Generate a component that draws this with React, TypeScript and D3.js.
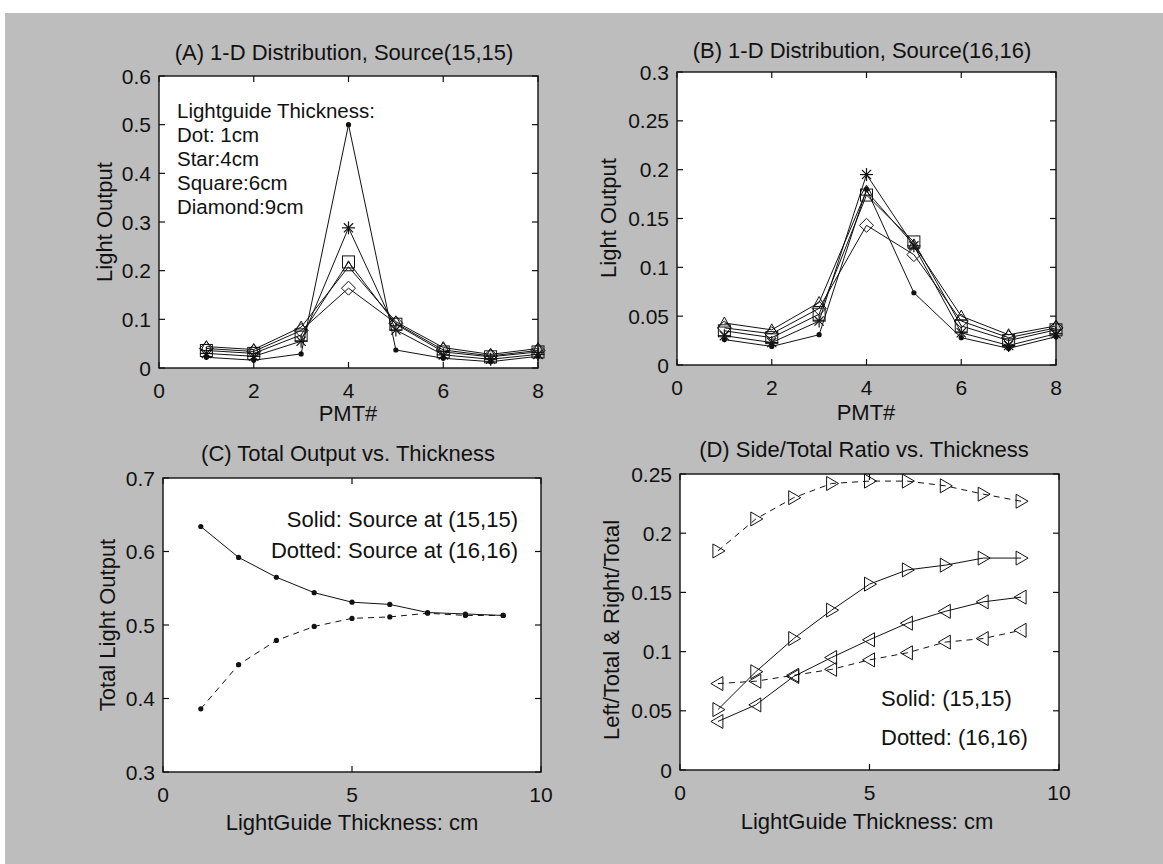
import React from 'react';
import * as d3 from 'd3';

// ---------- data ----------
const pmt = [1, 2, 3, 4, 5, 6, 7, 8];
const aDot = [0.022, 0.016, 0.029, 0.5, 0.037, 0.02, 0.013, 0.024];
const aStar = [0.03, 0.024, 0.055, 0.288, 0.078, 0.027, 0.018, 0.028];
const aSquare = [0.036, 0.03, 0.068, 0.218, 0.09, 0.033, 0.023, 0.033];
const aTriangle = [0.044, 0.038, 0.084, 0.208, 0.095, 0.042, 0.028, 0.04];
const aDiamond = [0.04, 0.034, 0.077, 0.164, 0.092, 0.037, 0.025, 0.036];

const bDot = [0.026, 0.019, 0.031, 0.18, 0.074, 0.028, 0.017, 0.029];
const bStar = [0.03, 0.023, 0.045, 0.195, 0.122, 0.033, 0.02, 0.032];
const bSquare = [0.035, 0.028, 0.052, 0.174, 0.126, 0.04, 0.025, 0.036];
const bTriangle = [0.043, 0.036, 0.064, 0.178, 0.123, 0.05, 0.031, 0.04];
const bDiamond = [0.038, 0.032, 0.058, 0.143, 0.113, 0.045, 0.028, 0.038];

const thickness = [1, 2, 3, 4, 5, 6, 7, 8, 9];
const cSolid = [0.634, 0.592, 0.565, 0.544, 0.531, 0.528, 0.517, 0.515, 0.513];
const cDotted = [0.386, 0.446, 0.479, 0.498, 0.509, 0.511, 0.516, 0.513, 0.513];

const dSolidRight = [0.051, 0.083, 0.111, 0.135, 0.157, 0.169, 0.173, 0.179, 0.179];
const dSolidLeft = [0.041, 0.055, 0.079, 0.095, 0.11, 0.124, 0.134, 0.142, 0.146];
const dDottedRight = [0.185, 0.212, 0.23, 0.242, 0.244, 0.244, 0.24, 0.233, 0.227];
const dDottedLeft = [0.073, 0.075, 0.08, 0.085, 0.093, 0.099, 0.108, 0.111, 0.118];

const ticksA_Y = [0, 0.1, 0.2, 0.3, 0.4, 0.5, 0.6];
const ticksB_Y = [0, 0.05, 0.1, 0.15, 0.2, 0.25, 0.3];
const ticksC_Y = [0.3, 0.4, 0.5, 0.6, 0.7];
const ticksD_Y = [0, 0.05, 0.1, 0.15, 0.2, 0.25];
const ticksPMT = [0, 2, 4, 6, 8];
const ticksThick = [0, 5, 10];

const legendA = ['Lightguide Thickness:', 'Dot: 1cm', 'Star:4cm', 'Square:6cm', 'Diamond:9cm'];
const legendC = ['Solid: Source at (15,15)', 'Dotted: Source at (16,16)'];
const legendD = ['Solid: (15,15)', 'Dotted: (16,16)'];

// ---------- drawing ----------
const FONT = '"Liberation Sans", Arial, Helvetica, sans-serif';
const INK = '#111';

type Marker = 'dot' | 'star' | 'square' | 'triangle' | 'diamond' | 'tright' | 'tleft';

function MarkerShape({ m, x, y }: { m: Marker; x: number; y: number }) {
  const sw = 1;
  switch (m) {
    case 'dot':
      return <circle cx={x} cy={y} r={2.6} fill={INK} />;
    case 'star': {
      const a = 6.5, b = 4.6;
      return (
        <g stroke={INK} strokeWidth={1.2}>
          <line x1={x - a} y1={y} x2={x + a} y2={y} />
          <line x1={x} y1={y - a} x2={x} y2={y + a} />
          <line x1={x - b} y1={y - b} x2={x + b} y2={y + b} />
          <line x1={x - b} y1={y + b} x2={x + b} y2={y - b} />
        </g>
      );
    }
    case 'square':
      return <rect x={x - 6} y={y - 6} width={12} height={12} fill="none" stroke={INK} strokeWidth={sw} />;
    case 'triangle':
      return <path d={`M${x},${y - 6}L${x + 5.5},${y + 4}L${x - 5.5},${y + 4}Z`} fill="none" stroke={INK} strokeWidth={sw} />;
    case 'diamond':
      return <path d={`M${x},${y - 7}L${x + 7},${y}L${x},${y + 7}L${x - 7},${y}Z`} fill="none" stroke={INK} strokeWidth={sw} />;
    case 'tright':
      return <path d={`M${x + 7},${y}L${x - 5},${y - 7}L${x - 5},${y + 7}Z`} fill="none" stroke={INK} strokeWidth={sw} />;
    case 'tleft':
      return <path d={`M${x - 7},${y}L${x + 5},${y - 7}L${x + 5},${y + 7}Z`} fill="none" stroke={INK} strokeWidth={sw} />;
  }
  return null;
}

interface Series { xs: number[]; ys: number[]; marker: Marker; dashed?: boolean }

interface PanelProps {
  box: { l: number; r: number; t: number; b: number };
  xDomain: [number, number];
  yDomain: [number, number];
  xTicks: number[];
  yTicks: number[];
  title: string; titleX: number; titleY: number;
  xlabel: string; xlabelX: number; xlabelY: number;
  ylabel: string; ylabelX: number; ylabelY: number;
  series: Series[];
  children?: React.ReactNode;
}

const fmt = (v: number) => String(+v.toFixed(3));

function Panel(p: PanelProps) {
  const { box } = p;
  const x = d3.scaleLinear().domain(p.xDomain).range([box.l, box.r]);
  const y = d3.scaleLinear().domain(p.yDomain).range([box.b, box.t]);
  const TL = 6;
  return (
    <g fontFamily={FONT} fontSize={22} fill={INK}>
      <rect x={box.l} y={box.t} width={box.r - box.l} height={box.b - box.t} fill="#fff" />
      {p.series.map((s, i) => {
        const pts = s.xs.map((xv, j) => [x(xv), y(s.ys[j])] as [number, number]);
        const path = d3.line()(pts) || '';
        return (
          <g key={i}>
            <path d={path} fill="none" stroke={INK} strokeWidth={1} strokeDasharray={s.dashed ? '6,5' : undefined} />
            {pts.map((pt, j) => <MarkerShape key={j} m={s.marker} x={pt[0]} y={pt[1]} />)}
          </g>
        );
      })}
      <rect x={box.l} y={box.t} width={box.r - box.l} height={box.b - box.t} fill="none" stroke={INK} strokeWidth={1.4} />
      {p.xTicks.map((t) => (
        <g key={'x' + t}>
          <line x1={x(t)} x2={x(t)} y1={box.b} y2={box.b - TL} stroke={INK} strokeWidth={1.2} />
          <line x1={x(t)} x2={x(t)} y1={box.t} y2={box.t + TL} stroke={INK} strokeWidth={1.2} />
          <text x={x(t)} y={box.b + 30} textAnchor="middle" fontSize={21}>{fmt(t)}</text>
        </g>
      ))}
      {p.yTicks.map((t) => (
        <g key={'y' + t}>
          <line x1={box.l} x2={box.l + TL} y1={y(t)} y2={y(t)} stroke={INK} strokeWidth={1.2} />
          <line x1={box.r} x2={box.r - TL} y1={y(t)} y2={y(t)} stroke={INK} strokeWidth={1.2} />
          <text x={box.l - 8} y={y(t)} dy="0.36em" textAnchor="end" fontSize={21}>{fmt(t)}</text>
        </g>
      ))}
      <text x={p.titleX} y={p.titleY} textAnchor="middle">{p.title}</text>
      <text x={p.xlabelX} y={p.xlabelY} textAnchor="middle">{p.xlabel}</text>
      <text transform={`translate(${p.ylabelX},${p.ylabelY}) rotate(-90)`} textAnchor="middle">{p.ylabel}</text>
      {p.children}
    </g>
  );
}

export default function App() {
  const boxA = { l: 159, r: 538, t: 76, b: 368 };
  const boxB = { l: 677, r: 1056, t: 72, b: 365 };
  const boxC = { l: 163, r: 541, t: 478, b: 772 };
  const boxD = { l: 680, r: 1059, t: 474, b: 770 };

  const seriesA: Series[] = [
    { xs: pmt, ys: aDot, marker: 'dot' },
    { xs: pmt, ys: aStar, marker: 'star' },
    { xs: pmt, ys: aSquare, marker: 'square' },
    { xs: pmt, ys: aTriangle, marker: 'triangle' },
    { xs: pmt, ys: aDiamond, marker: 'diamond' },
  ];
  const seriesB: Series[] = [
    { xs: pmt, ys: bDot, marker: 'dot' },
    { xs: pmt, ys: bStar, marker: 'star' },
    { xs: pmt, ys: bSquare, marker: 'square' },
    { xs: pmt, ys: bTriangle, marker: 'triangle' },
    { xs: pmt, ys: bDiamond, marker: 'diamond' },
  ];
  const seriesC: Series[] = [
    { xs: thickness, ys: cSolid, marker: 'dot' },
    { xs: thickness, ys: cDotted, marker: 'dot', dashed: true },
  ];
  const seriesD: Series[] = [
    { xs: thickness, ys: dSolidRight, marker: 'tright' },
    { xs: thickness, ys: dSolidLeft, marker: 'tleft' },
    { xs: thickness, ys: dDottedRight, marker: 'tright', dashed: true },
    { xs: thickness, ys: dDottedLeft, marker: 'tleft', dashed: true },
  ];
  const legendABase = [118, 142, 166, 190, 214];

  return (
    <svg width={1163} height={864} style={{ position: 'absolute', left: 0, top: 0 }}>
      <rect x={0} y={0} width={1163} height={864} fill="#fff" />
      <rect x={5} y={13} width={1158} height={851} fill="#bdbdbd" />
      <Panel box={boxA} xDomain={[0, 8]} yDomain={[0, 0.6]} xTicks={ticksPMT} yTicks={ticksA_Y}
        title="(A) 1-D Distribution, Source(15,15)" titleX={344} titleY={60}
        xlabel="PMT#" xlabelX={348} xlabelY={421}
        ylabel="Light Output" ylabelX={112} ylabelY={222} series={seriesA}>
        {legendA.map((t, i) => (
          <text key={t} x={177} y={legendABase[i]} fontSize={20.5}>{t}</text>
        ))}
      </Panel>
      <Panel box={boxB} xDomain={[0, 8]} yDomain={[0, 0.3]} xTicks={ticksPMT} yTicks={ticksB_Y}
        title="(B) 1-D Distribution, Source(16,16)" titleX={862} titleY={58}
        xlabel="PMT#" xlabelX={866} xlabelY={420}
        ylabel="Light Output" ylabelX={616} ylabelY={218} series={seriesB} />
      <Panel box={boxC} xDomain={[0, 10]} yDomain={[0.3, 0.7]} xTicks={ticksThick} yTicks={ticksC_Y}
        title="(C) Total Output vs. Thickness" titleX={348} titleY={461}
        xlabel="LightGuide Thickness: cm" xlabelX={352} xlabelY={830}
        ylabel="Total Light Output" ylabelX={115} ylabelY={625} series={seriesC}>
        {legendC.map((t, i) => (
          <text key={t} x={518} y={[527, 558][i]} textAnchor="end">{t}</text>
        ))}
      </Panel>
      <Panel box={boxD} xDomain={[0, 10]} yDomain={[0, 0.25]} xTicks={ticksThick} yTicks={ticksD_Y}
        title="(D) Side/Total Ratio vs. Thickness" titleX={864} titleY={457}
        xlabel="LightGuide Thickness: cm" xlabelX={867} xlabelY={829}
        ylabel="Left/Total & Right/Total" ylabelX={619} ylabelY={630} series={seriesD}>
        {legendD.map((t, i) => (
          <text key={t} x={881} y={[706, 745][i]}>{t}</text>
        ))}
      </Panel>
    </svg>
  );
}
